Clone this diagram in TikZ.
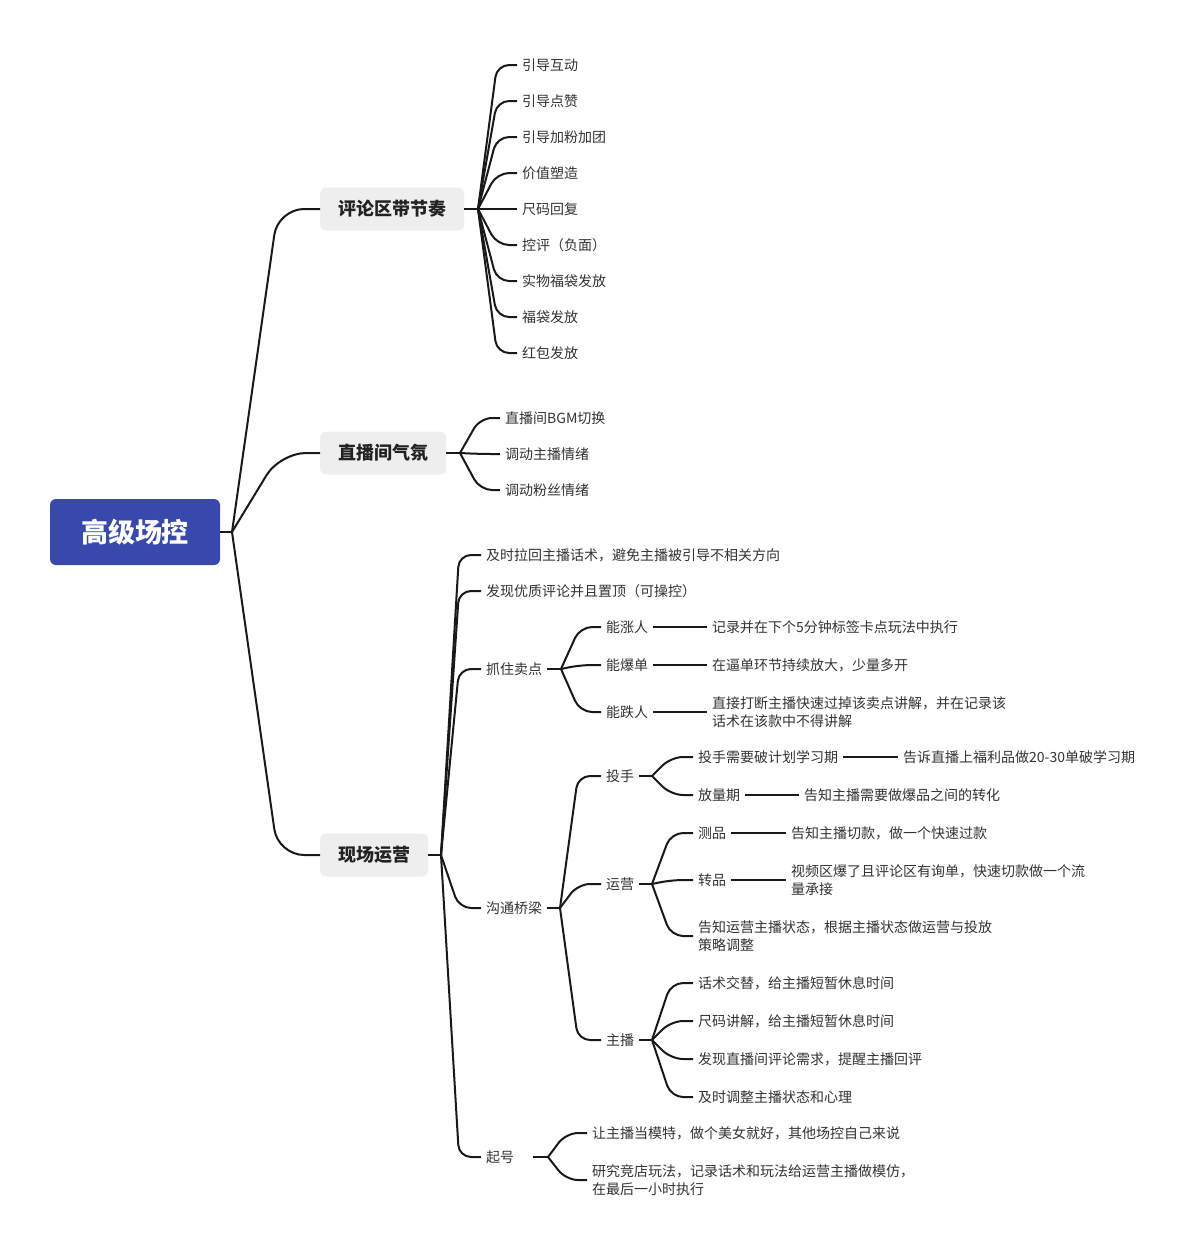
\documentclass[tikz,border=0pt]{standalone}
\usepackage{fontspec}
\setmainfont{Noto Sans CJK SC}
\definecolor{rootbg}{RGB}{57,73,171}
\definecolor{topicbg}{RGB}{238,238,238}
\definecolor{linec}{RGB}{25,25,25}
\definecolor{leafc}{RGB}{51,51,51}
\definecolor{topicc}{RGB}{34,34,34}
\newcommand\fanbr[3]{\draw[conn] (#1) -- (#2,0 |- #3.west) -- (#3.west);}
\tikzset{
  conn/.style={draw=linec, line width=2pt, rounded corners=12pt},
  leaf/.style={anchor=west, inner xsep=5pt, inner ysep=2pt, font=\fontsize{14}{17.5}\selectfont, text=leafc, align=left},
  topic/.style={anchor=west, fill=topicbg, rounded corners=6pt, minimum height=43pt, inner xsep=18pt, font=\fontsize{18}{22}\selectfont\bfseries, text=topicc},
  rootn/.style={fill=rootbg, rounded corners=6pt, minimum width=170pt, minimum height=66pt, font=\fontsize{27}{32}\selectfont\bfseries, text=white},
}
\begin{document}
\begin{tikzpicture}[x=1pt,y=-1pt]
\fill[white] (0,0) rectangle (1195,1254);
\useasboundingbox (0,0) rectangle (1195,1254);

% root and topics
\node[rootn] (root) at (135,532) {高级场控};
\node[topic] (t1) at (320,209) {评论区带节奏};
\node[topic] (t2) at (320,453) {直播间气氛};
\node[topic] (t3) at (320,855) {现场运营};
\coordinate (h0) at (232,532);
\draw[conn] (root.east) -- (h0);
\draw[conn, rounded corners=26pt] (h0) -- (278,0 |- t1.west) -- (t1.west);
\draw[conn, rounded corners=26pt] (h0) -- (280,0 |- t2.west) -- (t2.west);
\draw[conn, rounded corners=26pt] (h0) -- (278,0 |- t3.west) -- (t3.west);

% group 1
\node[leaf] (a1) at (517,65) {引导互动};
\node[leaf] (a2) at (517,101) {引导点赞};
\node[leaf] (a3) at (517,137) {引导加粉加团};
\node[leaf] (a4) at (517,173) {价值塑造};
\node[leaf] (a5) at (517,209) {尺码回复};
\node[leaf] (a6) at (517,245) {控评（负面）};
\node[leaf] (a7) at (517,281) {实物福袋发放};
\node[leaf] (a8) at (517,317) {福袋发放};
\node[leaf] (a9) at (517,353) {红包发放};
\coordinate (h1) at (478,209);
\draw[conn] (t1.east) -- (h1);
\foreach \n in {a1,a2,a3,a4,a5,a6,a7,a8,a9} {\fanbr{h1}{497}{\n}}

% group 2
\node[leaf] (b1) at (500,418) {直播间BGM切换};
\node[leaf] (b2) at (500,454) {调动主播情绪};
\node[leaf] (b3) at (500,490) {调动粉丝情绪};
\coordinate (h2) at (460,453);
\draw[conn] (t2.east) -- (h2);
\foreach \n in {b1,b2,b3} {\fanbr{h2}{480}{\n}}

% group 3
\node[leaf] (c1) at (481,555) {及时拉回主播话术，避免主播被引导不相关方向};
\node[leaf] (c2) at (481,591) {发现优质评论并且置顶（可操控）};
\node[leaf] (c3) at (481,669) {抓住卖点};
\node[leaf] (c4) at (481,908) {沟通桥梁};
\node[leaf, text width=42pt] (c5) at (481,1157) {起号};
\coordinate (h3) at (441,855);
\draw[conn] (t3.east) -- (h3);
\foreach \n in {c1,c2,c3,c4,c5} {\fanbr{h3}{459}{\n}}

% 抓住卖点
\node[leaf] (d1) at (601,627) {能涨人};
\node[leaf] (d2) at (601,665) {能爆单};
\node[leaf] (d3) at (601,712) {能跌人};
\coordinate (hd) at (561,669);
\draw[conn] (c3.east) -- (hd);
\foreach \n in {d1,d2,d3} {\fanbr{hd}{580}{\n}}
\node[leaf] (d1x) at (707,627) {记录并在下个5分钟标签卡点玩法中执行};
\node[leaf] (d2x) at (707,665) {在逼单环节持续放大，少量多开};
\node[leaf] (d3x) at (707,712) {直接打断主播快速过掉该卖点讲解，并在记录该\\话术在该款中不得讲解};
\draw[conn] (d1.east) -- (d1x.west);
\draw[conn] (d2.east) -- (d2x.west);
\draw[conn] (d3.east) -- (d3x.west);

% 沟通桥梁
\node[leaf] (e1) at (601,776) {投手};
\node[leaf] (e2) at (601,884) {运营};
\node[leaf] (e3) at (601,1040) {主播};
\coordinate (he) at (560,908);
\draw[conn] (c4.east) -- (he);
\foreach \n in {e1,e2,e3} {\fanbr{he}{578}{\n}}

% 投手
\node[leaf] (f1) at (693,757) {投手需要破计划学习期};
\node[leaf] (f2) at (693,795) {放量期};
\coordinate (hf) at (652,776);
\draw[conn] (e1.east) -- (hf);
\foreach \n in {f1,f2} {\fanbr{hf}{671}{\n}}
\node[leaf] (f1x) at (898,757) {告诉直播上福利品做20-30单破学习期};
\node[leaf] (f2x) at (799,795) {告知主播需要做爆品之间的转化};
\draw[conn] (f1.east) -- (f1x.west);
\draw[conn] (f2.east) -- (f2x.west);

% 运营
\node[leaf] (g1) at (693,833) {测品};
\node[leaf] (g2) at (693,880) {转品};
\node[leaf] (g3) at (693,936) {告知运营主播状态，根据主播状态做运营与投放\\策略调整};
\coordinate (hg) at (652,884);
\draw[conn] (e2.east) -- (hg);
\foreach \n in {g1,g2,g3} {\fanbr{hg}{671}{\n}}
\node[leaf] (g1x) at (786,833) {告知主播切款，做一个快速过款};
\node[leaf] (g2x) at (786,880) {视频区爆了且评论区有询单，快速切款做一个流\\量承接};
\draw[conn] (g1.east) -- (g1x.west);
\draw[conn] (g2.east) -- (g2x.west);

% 主播
\node[leaf] (k1) at (693,983) {话术交替，给主播短暂休息时间};
\node[leaf] (k2) at (693,1021) {尺码讲解，给主播短暂休息时间};
\node[leaf] (k3) at (693,1059) {发现直播间评论需求，提醒主播回评};
\node[leaf] (k4) at (693,1097) {及时调整主播状态和心理};
\coordinate (hk) at (652,1040);
\draw[conn] (e3.east) -- (hk);
\foreach \n in {k1,k2,k3,k4} {\fanbr{hk}{671}{\n}}

% 起号
\node[leaf] (m1) at (587,1133) {让主播当模特，做个美女就好，其他场控自己来说};
\node[leaf] (m2) at (587,1180) {研究竞店玩法，记录话术和玩法给运营主播做模仿，\\在最后一小时执行};
\coordinate (hm) at (548,1157);
\draw[conn] (c5.east) -- (hm);
\foreach \n in {m1,m2} {\fanbr{hm}{566}{\n}}
\end{tikzpicture}
\end{document}
